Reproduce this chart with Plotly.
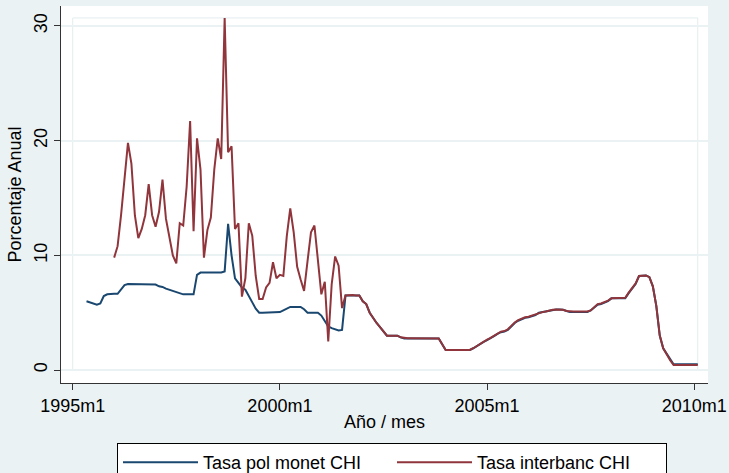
import plotly.graph_objects as go

# ---- data (monthly, Stata-style labels) ----
tick_labels = ["1995m1", "2000m1", "2005m1", "2010m1"]
tick_years = [1995, 2000, 2005, 2010]

blue_name = "Tasa pol monet CHI"
blue_start = (1995, 5)
blue_vals = [
    6.0, 5.9, 5.75, 5.7, 5.8, 6.45, 6.6, 6.65,            # 1995m5-1995m12
    6.65, 6.65, 7.0, 7.4, 7.5, 7.5, 7.5, 7.5, 7.5, 7.5, 7.5, 7.5,   # 1996
    7.45, 7.3, 7.25, 7.1, 7.0, 6.9, 6.85, 6.75, 6.6, 6.6, 6.6, 6.6,  # 1997
    8.3, 8.5, 8.5, 8.5, 8.5, 8.5, 8.5, 8.5, 8.6, 12.75, 10.0, 8.0,   # 1998
    7.6, 7.2, 7.0, 6.4, 5.9, 5.35, 5.0, 5.0, 5.0, 5.0, 5.0, 5.0,     # 1999
    5.05, 5.2, 5.35, 5.5, 5.5, 5.5, 5.5, 5.3, 5.0, 5.0, 5.0, 5.0,    # 2000
    4.75, 4.3, 3.8, 3.65, 3.55, 3.45, 3.5, 6.5, 6.5, 6.5, 6.5, 6.5,  # 2001
    6.0, 5.75, 5.0, 4.5, 4.1, 3.75, 3.4, 3.0, 3.0, 3.0, 3.0, 2.85,   # 2002
    2.75, 2.75, 2.75, 2.75, 2.75, 2.75, 2.75, 2.75, 2.75, 2.75, 2.75, 2.25,  # 2003
    1.75, 1.75, 1.75, 1.75, 1.75, 1.75, 1.75, 1.75, 1.9, 2.1, 2.3, 2.45,     # 2004
    2.6, 2.75, 2.95, 3.15, 3.3, 3.35, 3.5, 3.8, 4.1, 4.3, 4.45, 4.55,        # 2005
    4.6, 4.7, 4.8, 5.0, 5.05, 5.1, 5.2, 5.25, 5.27, 5.27, 5.25, 5.15,        # 2006
    5.05, 5.05, 5.05, 5.05, 5.05, 5.05, 5.2, 5.45, 5.7, 5.75, 5.85, 6.0,     # 2007
    6.25, 6.25, 6.25, 6.25, 6.25, 6.7, 7.1, 7.5, 8.2, 8.25, 8.25, 8.1,       # 2008
    7.3, 5.6, 3.0, 1.9, 1.4, 0.9, 0.5, 0.5, 0.5, 0.5, 0.5, 0.5,              # 2009
    0.5, 0.5,                                                                # 2010m1-m2
]

red_name = "Tasa interbanc CHI"
red_start = (1996, 1)
red_vals = [
    9.8, 10.8, 13.5, 17.0, 19.8, 18.0, 13.5, 11.5, 12.3, 13.5, 16.2, 13.5,   # 1996
    12.5, 13.8, 16.6, 13.2, 11.5, 10.0, 9.3, 12.8, 12.6, 16.0, 21.7, 12.1,   # 1997
    20.2, 17.5, 9.8, 12.2, 13.3, 17.5, 20.2, 18.4, 30.7, 19.0, 19.5, 12.3,   # 1998
    12.8, 6.4, 8.0, 12.8, 11.7, 8.2, 6.2, 6.2, 7.2, 7.6, 9.4, 8.0,           # 1999
    8.3, 8.2, 11.7, 14.1, 12.0, 9.0, 7.9, 6.9, 9.5, 12.0, 12.6, 9.6,         # 2000
    6.6, 7.7, 2.5, 7.5, 9.9, 9.1, 5.4, 6.5, 6.55, 6.55, 6.5, 6.5,            # 2001
    6.0, 5.75, 5.0, 4.5, 4.1, 3.75, 3.4, 3.0, 3.0, 3.0, 3.0, 2.85,           # 2002
    2.8, 2.78, 2.78, 2.78, 2.75, 2.75, 2.75, 2.75, 2.75, 2.75, 2.75, 2.25,   # 2003
    1.75, 1.75, 1.75, 1.75, 1.75, 1.75, 1.75, 1.75, 1.9, 2.1, 2.3, 2.5,      # 2004
    2.65, 2.8, 3.0, 3.2, 3.35, 3.4, 3.55, 3.85, 4.15, 4.35, 4.5, 4.6,        # 2005
    4.65, 4.75, 4.85, 5.0, 5.05, 5.1, 5.2, 5.25, 5.27, 5.27, 5.25, 5.15,     # 2006
    5.1, 5.1, 5.1, 5.1, 5.1, 5.1, 5.2, 5.5, 5.75, 5.8, 5.9, 6.05,            # 2007
    6.25, 6.25, 6.25, 6.25, 6.3, 6.75, 7.15, 7.55, 8.2, 8.25, 8.25, 8.1,     # 2008
    7.3, 5.6, 3.0, 1.9, 1.35, 0.85, 0.45, 0.45, 0.45, 0.45, 0.45, 0.45,      # 2009
    0.45, 0.45,                                                              # 2010m1-m2
]


def month_axis(start, n):
    y, m = start
    xs, labels = [], []
    for _ in range(n):
        xs.append(y + (m - 1) / 12.0)
        labels.append(f"{y}m{m}")
        m += 1
        if m > 12:
            m = 1
            y += 1
    return xs, labels


bx, blab = month_axis(blue_start, len(blue_vals))
rx, rlab = month_axis(red_start, len(red_vals))

BG = "#EAF2F3"
FONT = "Liberation Sans, Arial, sans-serif"

fig = go.Figure()
fig.add_trace(go.Scatter(x=bx, y=blue_vals, mode="lines", name=blue_name,
                         customdata=blab, hovertemplate="%{customdata}: %{y}<extra></extra>",
                         line=dict(color="#1A476F", width=2)))
fig.add_trace(go.Scatter(x=rx, y=red_vals, mode="lines", name=red_name,
                         customdata=rlab, hovertemplate="%{customdata}: %{y}<extra></extra>",
                         line=dict(color="#90353B", width=2)))

# inner plot-region frame (Stata style)
fig.add_shape(type="rect", xref="x", yref="y", x0=1995, x1=bx[-1], y0=0, y1=max(red_vals),
              line=dict(color="#E3EDEF", width=1), layer="below")

fig.update_layout(
    width=729, height=473,
    margin=dict(l=61, r=21, t=6, b=90, autoexpand=False),
    paper_bgcolor=BG, plot_bgcolor="white",
    font=dict(family=FONT, size=18, color="black"),
    showlegend=True,
    legend=dict(orientation="h", x=(117 - 61) / 647, xanchor="left",
                y=(383 - 443) / 377, yanchor="top",
                bgcolor="white", bordercolor="black", borderwidth=1,
                font=dict(size=18), itemwidth=75,
                entrywidth=184, entrywidthmode="pixels"),
    xaxis=dict(range=[1995 - 3.39 / 12, 2010 + 3.97 / 12],
               tickvals=tick_years, ticktext=tick_labels,
               showgrid=False, zeroline=False, automargin=False,
               showline=True, linecolor="#333333", linewidth=1,
               ticks="outside", ticklen=6, tickcolor="#333333",
               tickfont=dict(size=18),
               title=dict(text="Año / mes", font=dict(size=18), standoff=0)),
    yaxis=dict(range=[-1.13, 31.74],
               tickvals=[0, 10, 20, 30], tickangle=-90,
               showgrid=True, gridcolor=BG, gridwidth=2, zeroline=False, automargin=False,
               showline=True, linecolor="#333333", linewidth=1,
               ticks="outside", ticklen=6, tickcolor="#333333",
               tickfont=dict(size=18),
               title=dict(text="Porcentaje Anual", font=dict(size=18), standoff=4)),
)

fig.write_html("out.html",
               config={"displayModeBar": False},
               post_script="document.body.style.margin='0';document.body.style.overflow='hidden';")
